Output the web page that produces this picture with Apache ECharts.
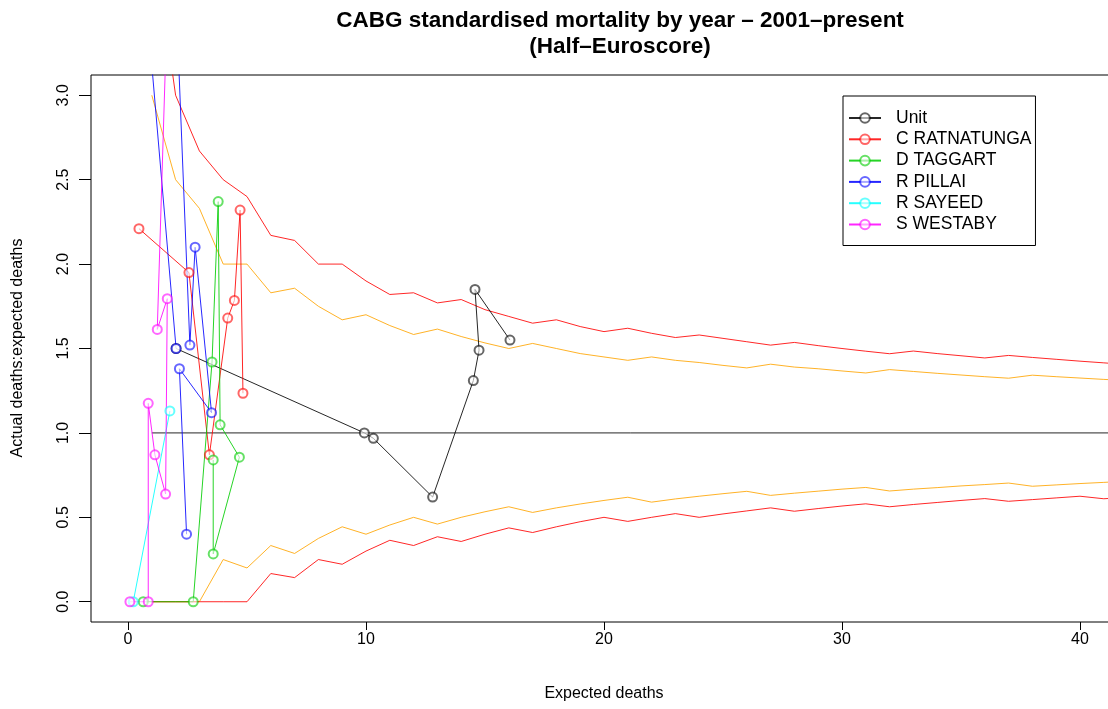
<!DOCTYPE html>
<html><head><meta charset="utf-8">
<script src="https://cdn.jsdelivr.net/npm/echarts@6/dist/echarts.min.js"></script>
<style>html,body{margin:0;padding:0;background:#fff}#c{width:1108px;height:709px}</style>
</head><body><div id="c"></div>
<script>
// ---- data ----
const xTicks = [0, 10, 20, 30, 40];
const yTicks = [0, 0.5, 1, 1.5, 2, 2.5, 3];

const unitX = [2.02, 9.93, 10.31, 12.8, 14.51, 14.75, 14.58, 16.05];
const unitY = [1.50, 1.00, 0.968, 0.62, 1.31, 1.49, 1.85, 1.55];

const ratnatungaX = [0.46, 2.56, 3.42, 4.19, 4.47, 4.71, 4.83];
const ratnatungaY = [2.21, 1.95, 0.87, 1.68, 1.785, 2.32, 1.235];

const taggartX = [0.64, 2.74, 3.53, 3.79, 3.87, 4.68, 3.58, 3.58];
const taggartY = [0, 0, 1.42, 2.37, 1.048, 0.856, 0.283, 0.84];

const pillaiX = [2.02, 0.5, 1.76, 2.6, 2.82, 3.51, 2.16, 2.46];
const pillaiY = [1.5, 4.0, 4.5, 1.52, 2.10, 1.12, 1.38, 0.40];

const sayeedX = [0.22, 1.76];
const sayeedY = [0, 1.13];

const westabyX = [0.08, 0.85, 0.85, 1.13, 1.58, 1.65, 1.23, 1.75];
const westabyY = [0, 0, 1.175, 0.87, 0.638, 1.795, 1.613, 4.0];

const limitX = [1,2,3,4,5,6,7,8,9,10,11,12,13,14,15,16,17,18,19,20,21,22,23,24,25,26,27,28,29,30,31,32,33,34,35,36,37,38,39,40,41,42];
const upperOuter = [4.0,3.0,2.67,2.5,2.4,2.17,2.14,2.0,2.0,1.9,1.82,1.83,1.77,1.79,1.73,1.69,1.65,1.67,1.63,1.6,1.62,1.59,1.565,1.58,1.56,1.54,1.52,1.536,1.517,1.5,1.484,1.469,1.485,1.47,1.457,1.444,1.459,1.447,1.436,1.425,1.415,1.405];
const upperInner = [3.0,2.5,2.33,2.0,2.0,1.83,1.857,1.75,1.67,1.7,1.636,1.583,1.615,1.571,1.533,1.5,1.53,1.5,1.47,1.45,1.43,1.45,1.43,1.417,1.4,1.385,1.407,1.39,1.38,1.367,1.355,1.375,1.364,1.353,1.343,1.333,1.324,1.342,1.333,1.325,1.317,1.31];
const lowerInner = [0,0,0,0.25,0.2,0.333,0.286,0.375,0.444,0.4,0.4545,0.5,0.46,0.5,0.533,0.5625,0.529,0.556,0.579,0.6,0.619,0.59,0.609,0.625,0.64,0.654,0.63,0.643,0.655,0.667,0.677,0.656,0.667,0.676,0.686,0.694,0.703,0.684,0.692,0.7,0.707,0.714];
const lowerOuter = [0,0,0,0,0,0.167,0.143,0.25,0.222,0.3,0.364,0.333,0.385,0.357,0.4,0.4375,0.41,0.444,0.474,0.5,0.476,0.5,0.522,0.5,0.52,0.538,0.556,0.536,0.552,0.567,0.58,0.5625,0.576,0.588,0.6,0.611,0.595,0.605,0.615,0.625,0.61,0.619];

const refX = [1, 42];
const refY = [1, 1];

// ---- chart ----
const FONT = 'Liberation Sans, Arial, sans-serif';
const zip = (xs, ys) => xs.map((x, i) => [x, ys[i]]);

function person(name, xs, ys, color) {
  return {
    name, type: 'line', data: zip(xs, ys), symbol: 'emptyCircle', symbolSize: 9,
    showAllSymbol: true, clip: true, animation: false, silent: true,
    lineStyle: { color, width: 1, opacity: 0.85 },
    itemStyle: { color, borderColor: color, borderWidth: 1, opacity: 0.6 },
    emphasis: { disabled: true }, z: 3
  };
}
function plain(name, xs, ys, color) {
  return {
    name, type: 'line', data: zip(xs, ys), symbol: 'none', clip: true, animation: false, silent: true,
    lineStyle: { color, width: 1, opacity: 0.85 }, emphasis: { disabled: true }, z: 2
  };
}

const chart = echarts.init(document.getElementById('c'), null, { renderer: 'canvas' });
chart.setOption({
  backgroundColor: '#fff',
  animation: false,
  textStyle: { fontFamily: FONT },
  grid: { left: 91, top: 75, width: 1058, height: 547, outerBoundsMode: 'none', containLabel: false,
    show: true, borderColor: '#000', borderWidth: 1, backgroundColor: 'transparent' },
  xAxis: {
    type: 'value', min: -1.555, max: 42.9,
    axisLine: { show: false, onZero: false }, splitLine: { show: false },
    axisTick: { show: true, inside: false, length: 8, lineStyle: { color: '#000' }, customValues: xTicks },
    axisLabel: { customValues: xTicks, fontSize: 16, color: '#000', margin: 10, fontFamily: FONT }
  },
  yAxis: {
    type: 'value', min: -0.12, max: 3.12,
    axisLine: { show: false, onZero: false }, splitLine: { show: false },
    axisTick: { show: true, inside: false, length: 12, lineStyle: { color: '#000' }, customValues: yTicks },
    axisLabel: { customValues: yTicks, fontSize: 16, color: '#000', margin: 19, rotate: 90, fontFamily: FONT,
      formatter: v => Number(v).toFixed(1) }
  },
  legend: {
    orient: 'vertical', left: 843, top: 96,
    data: ['Unit', 'C RATNATUNGA', 'D TAGGART', 'R PILLAI', 'R SAYEED', 'S WESTABY'],
    itemWidth: 32, itemHeight: 12, itemGap: 3.3,
    padding: [13, 4, 12, 5],
    borderColor: '#000', borderWidth: 1, backgroundColor: '#fff',
    selectedMode: false,
    textStyle: { fontSize: 17.5, color: '#000', fontFamily: FONT, lineHeight: 17, padding: [0, 0, 0, 10] }
  },
  graphic: [
    { type: 'text', x: 620, y: 21, silent: true, style: { text: 'CABG standardised mortality by year – 2001–present', font: 'bold 22.5px ' + FONT, fill: '#000', textAlign: 'center', textVerticalAlign: 'middle' } },
    { type: 'text', x: 620, y: 47, silent: true, style: { text: '(Half–Euroscore)', font: 'bold 22.5px ' + FONT, fill: '#000', textAlign: 'center', textVerticalAlign: 'middle' } },
    { type: 'text', x: 604, y: 694, silent: true, style: { text: 'Expected deaths', font: '16px ' + FONT, fill: '#000', textAlign: 'center', textVerticalAlign: 'middle' } },
    { type: 'text', x: 18, y: 348, rotation: Math.PI / 2, silent: true, style: { text: 'Actual deaths:expected deaths', font: '16px ' + FONT, fill: '#000', textAlign: 'center', textVerticalAlign: 'middle' } }
  ],
  series: [
    plain('upperOuter', limitX, upperOuter, '#ff0000'),
    plain('upperInner', limitX, upperInner, '#ffa500'),
    plain('lowerInner', limitX, lowerInner, '#ffa500'),
    plain('lowerOuter', limitX, lowerOuter, '#ff0000'),
    plain('ref', refX, refY, '#000000'),
    person('Unit', unitX, unitY, '#000000'),
    person('C RATNATUNGA', ratnatungaX, ratnatungaY, '#ff0000'),
    person('D TAGGART', taggartX, taggartY, '#00cd00'),
    person('R PILLAI', pillaiX, pillaiY, '#0000ff'),
    person('R SAYEED', sayeedX, sayeedY, '#00ffff'),
    person('S WESTABY', westabyX, westabyY, '#ff00ff')
  ]
});
</script></body></html>
